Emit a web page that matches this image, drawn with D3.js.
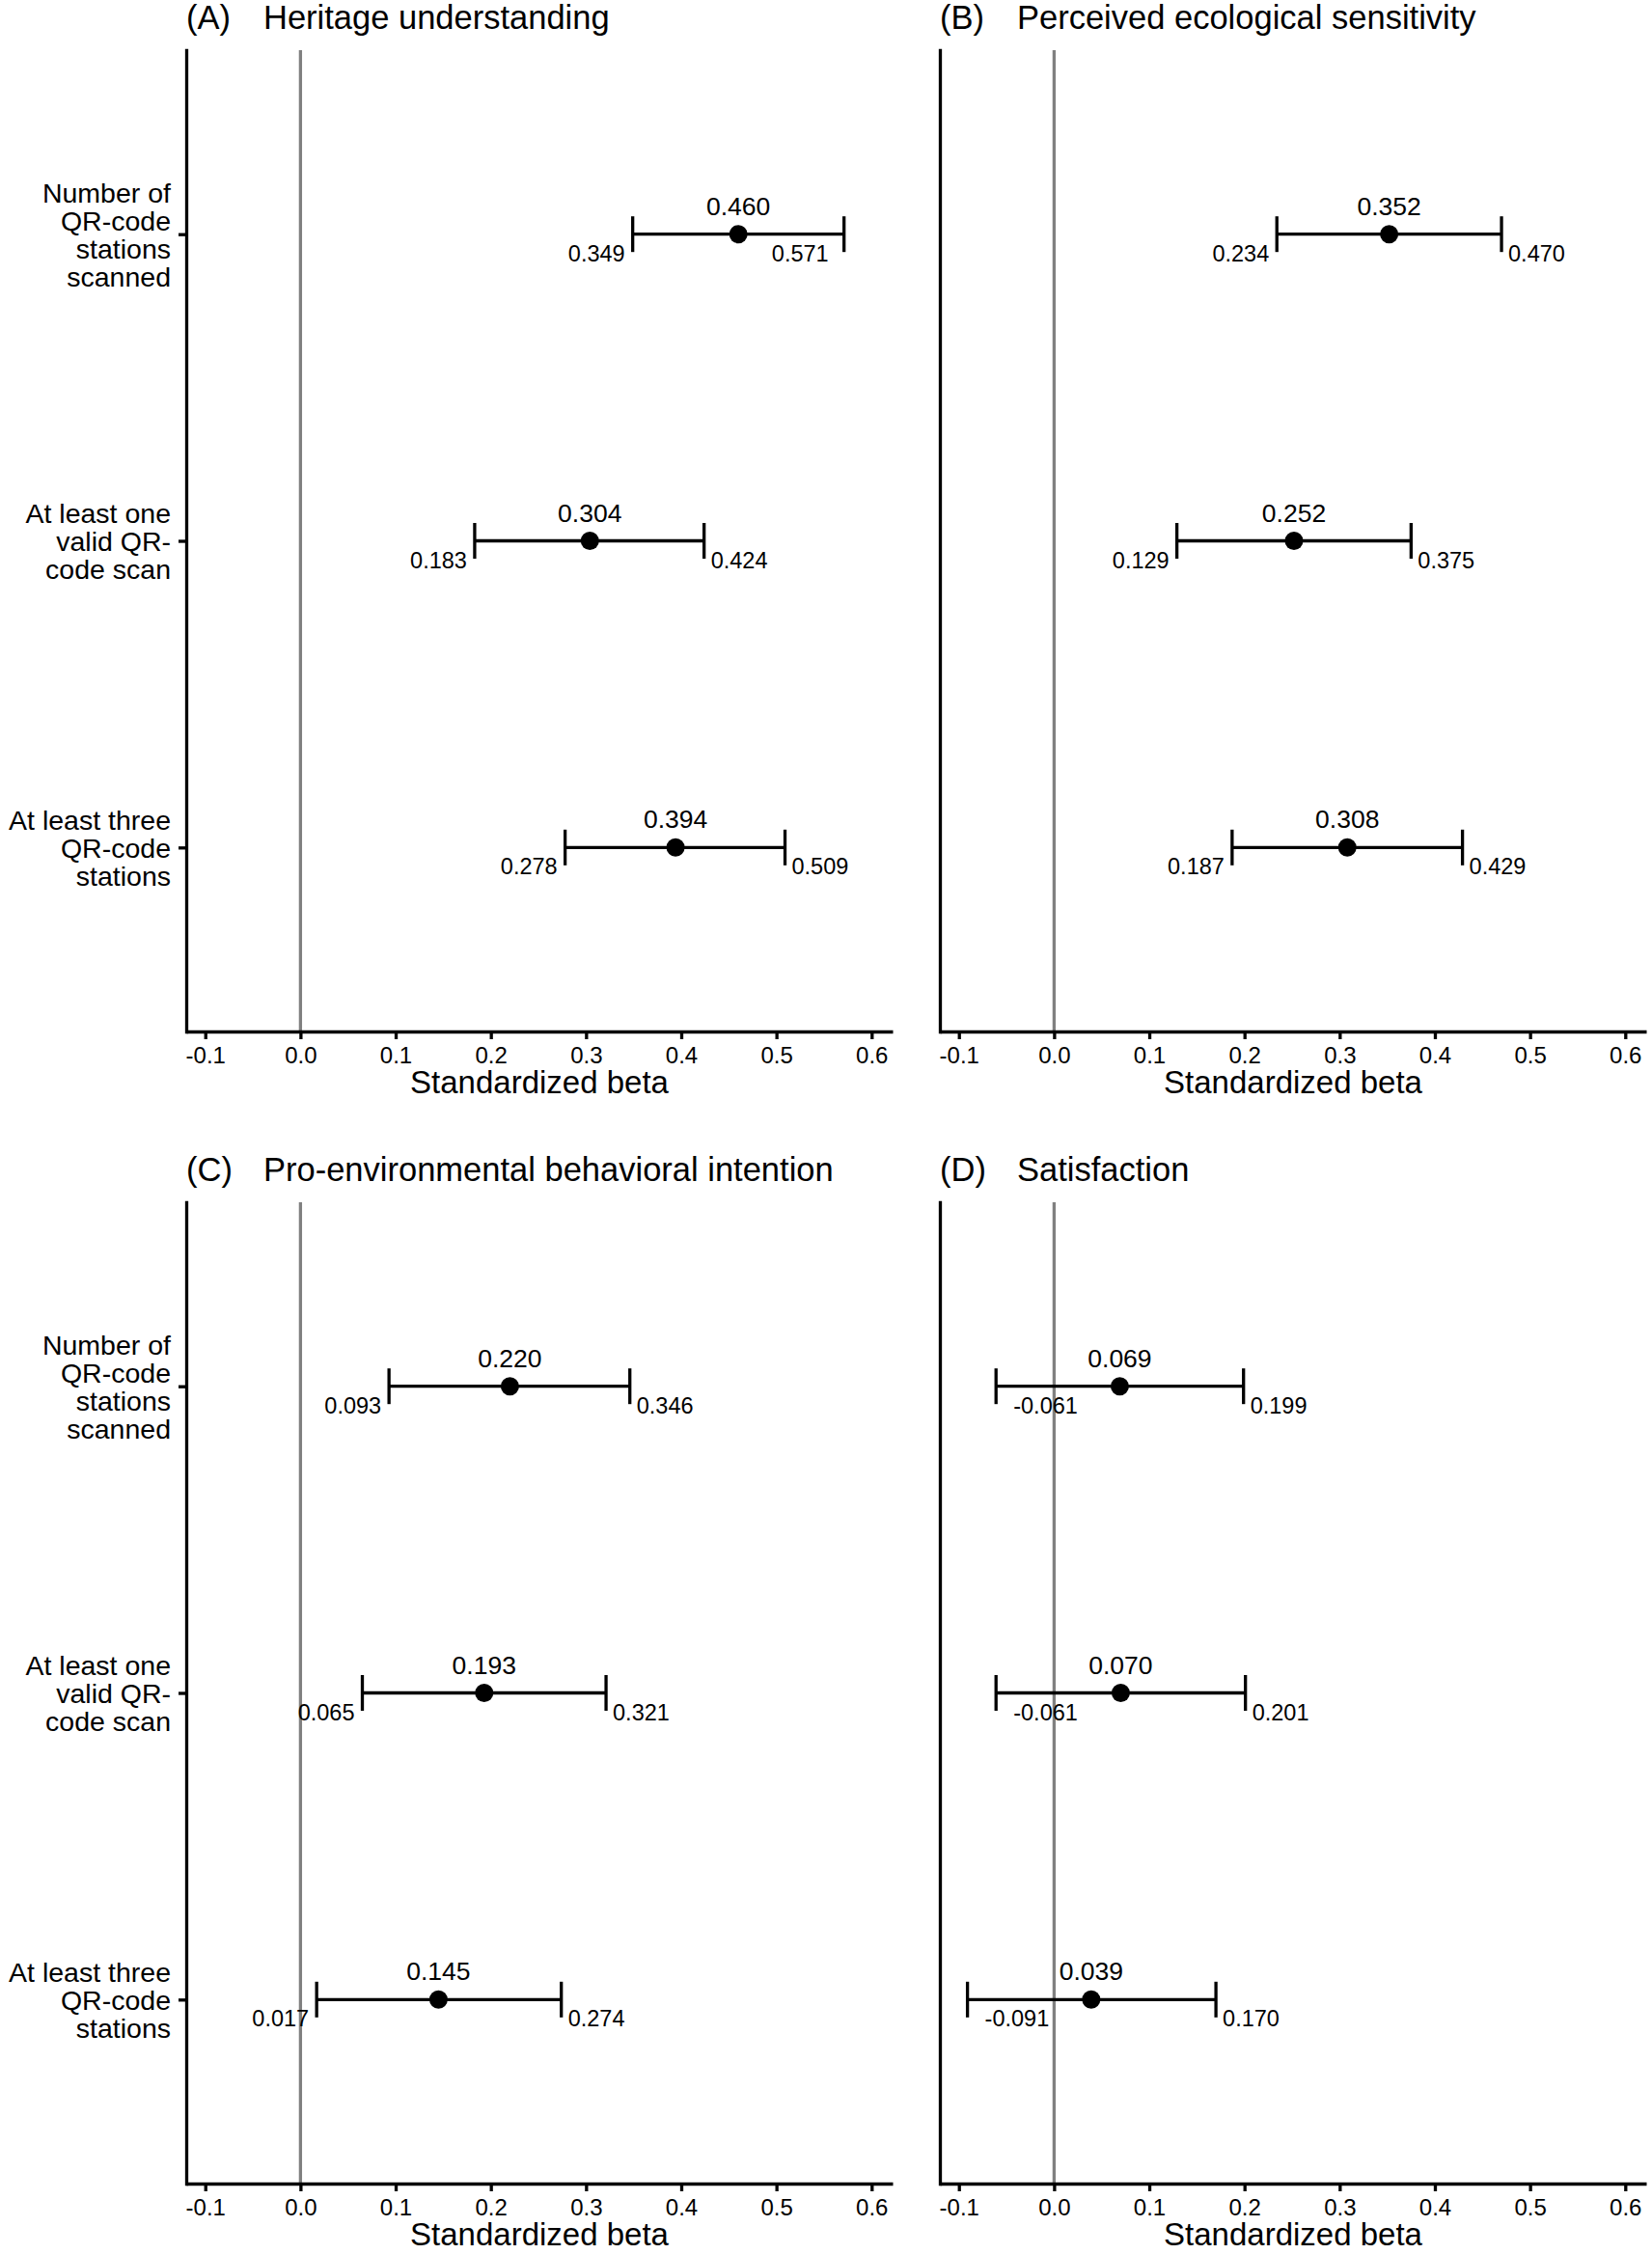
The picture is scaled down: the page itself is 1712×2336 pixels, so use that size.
<!DOCTYPE html>
<html>
<head>
<meta charset="utf-8">
<script src="https://cdn.jsdelivr.net/npm/d3@7"></script>
<style>
  body { margin: 0; background: #fff; }
  svg { display: block; font-family: "Liberation Sans", Arial, Helvetica, sans-serif; }
</style>
</head>
<body>
<div id="chart"></div>
<script>
// row labels (top to bottom), panel titles
const categories = [
  "Number of\nQR-code\nstations\nscanned",
  "At least one\nvalid QR-\ncode scan",
  "At least three\nQR-code\nstations"
];
const panelTags = ["(A)", "(B)", "(C)", "(D)"];
const panelTitles = [
  "Heritage understanding",
  "Perceived ecological sensitivity",
  "Pro-environmental behavioral intention",
  "Satisfaction"
];

// standardized beta + 95% CI, one row per panel, same order as categories
const beta = [
  [0.460, 0.304, 0.394],
  [0.352, 0.252, 0.308],
  [0.220, 0.193, 0.145],
  [0.069, 0.070, 0.039]
];
const lower = [
  [0.349, 0.183, 0.278],
  [0.234, 0.129, 0.187],
  [0.093, 0.065, 0.017],
  [-0.061, -0.061, -0.091]
];
const upper = [
  [0.571, 0.424, 0.509],
  [0.470, 0.375, 0.429],
  [0.346, 0.321, 0.274],
  [0.199, 0.201, 0.170]
];

const xTicks = [-0.1, 0, 0.1, 0.2, 0.3, 0.4, 0.5, 0.6];
const xDomain = [-0.12, 0.622];

const W = 1712, H = 2336;
const panelW = 732, panelH = 1017;
const lefts = [193, 974];
const tops = [52, 1246];
const lw = 3.3;

// plain hyphen minus, as in the original figure
const fmt1 = d => d3.format(".1f")(d).replace("−", "-");
const fmt3 = d => d3.format(".3f")(d).replace("−", "-");

const svg = d3.select("#chart").append("svg")
  .attr("width", W)
  .attr("height", H);

panelTitles.forEach((title, p) => {
  const left = lefts[p % 2];
  const top = tops[Math.floor(p / 2)];
  const showLabels = p % 2 === 0;

  const x = d3.scaleLinear().domain(xDomain).range([0, panelW]);
  const y = d3.scalePoint().domain(categories).range([0, panelH]).padding(0.6);

  const g = svg.append("g").attr("transform", `translate(${left},${top})`);

  // title
  const t = g.append("text")
    .attr("y", -22)
    .attr("font-size", 34.5)
    .attr("fill", "#000");
  t.append("tspan").attr("x", 0).text(panelTags[p]);
  t.append("tspan").attr("x", 80).text(title);

  // reference line at zero
  g.append("line")
    .attr("x1", x(0)).attr("x2", x(0))
    .attr("y1", 0).attr("y2", panelH)
    .attr("stroke", "#808080")
    .attr("stroke-width", lw);

  // x axis
  const xAxis = g.append("g")
    .attr("transform", `translate(0,${panelH})`)
    .call(d3.axisBottom(x).tickValues(xTicks).tickFormat(fmt1)
      .tickSize(8).tickSizeOuter(0).tickPadding(8));
  xAxis.selectAll("text").attr("font-size", 24).attr("fill", "#000").attr("font-family", null);
  xAxis.selectAll("line").attr("stroke", "#000").attr("stroke-width", lw);
  xAxis.select(".domain").attr("stroke", "#000").attr("stroke-width", lw);

  // y axis: labels and ticks only on the left-hand panels
  const yAxis = g.append("g")
    .call(d3.axisLeft(y).tickSize(showLabels ? 8 : 0).tickSizeOuter(0).tickPadding(8));
  yAxis.selectAll("line").attr("stroke", "#000").attr("stroke-width", lw);
  yAxis.select(".domain").attr("stroke", "#000").attr("stroke-width", lw)
    .attr("stroke-linecap", "square");
  if (showLabels) {
    yAxis.selectAll(".tick text").each(function(d) {
      const lines = d.split("\n");
      const el = d3.select(this).text(null)
        .attr("font-size", 28.5).attr("fill", "#000").attr("font-family", null)
        .attr("dy", null);
      lines.forEach((ln, i) => {
        el.append("tspan")
          .attr("x", -16)
          .attr("y", (i - (lines.length - 1) / 2) * 29 + 10)
          .text(ln);
      });
    });
  } else {
    yAxis.selectAll(".tick").remove();
  }

  categories.forEach((cat, i) => {
    const cy = y(cat);
    const xl = x(lower[p][i]), xu = x(upper[p][i]), xb = x(beta[p][i]);
    const row = g.append("g");

    row.append("line")
      .attr("x1", xl).attr("x2", xu).attr("y1", cy).attr("y2", cy)
      .attr("stroke", "#000").attr("stroke-width", lw);
    [xl, xu].forEach(cx => {
      row.append("line")
        .attr("x1", cx).attr("x2", cx).attr("y1", cy - 18.5).attr("y2", cy + 18.5)
        .attr("stroke", "#000").attr("stroke-width", lw);
    });
    row.append("circle")
      .attr("cx", xb).attr("cy", cy).attr("r", 9.5)
      .attr("fill", "#000");

    row.append("text")
      .attr("x", xb).attr("y", cy - 20)
      .attr("text-anchor", "middle")
      .attr("font-size", 26.5)
      .text(fmt3(beta[p][i]));

    // CI labels sit outside the caps, flipped inward if they would leave the panel
    const lo = row.append("text")
      .attr("x", xl - 8).attr("y", cy + 28)
      .attr("text-anchor", "end")
      .attr("font-size", 23.5)
      .text(fmt3(lower[p][i]));
    if (xl - 8 - lo.node().getComputedTextLength() < 0) {
      lo.attr("x", xl + 18).attr("text-anchor", "start");
    }
    const up = row.append("text")
      .attr("x", xu + 7).attr("y", cy + 28)
      .attr("text-anchor", "start")
      .attr("font-size", 23.5)
      .text(fmt3(upper[p][i]));
    if (xu + 7 + up.node().getComputedTextLength() > panelW) {
      up.attr("x", xu - 16).attr("text-anchor", "end");
    }
  });

  // x axis title
  g.append("text")
    .attr("x", panelW / 2)
    .attr("y", panelH + 64)
    .attr("text-anchor", "middle")
    .attr("font-size", 33)
    .text("Standardized beta");
});
</script>
</body>
</html>
